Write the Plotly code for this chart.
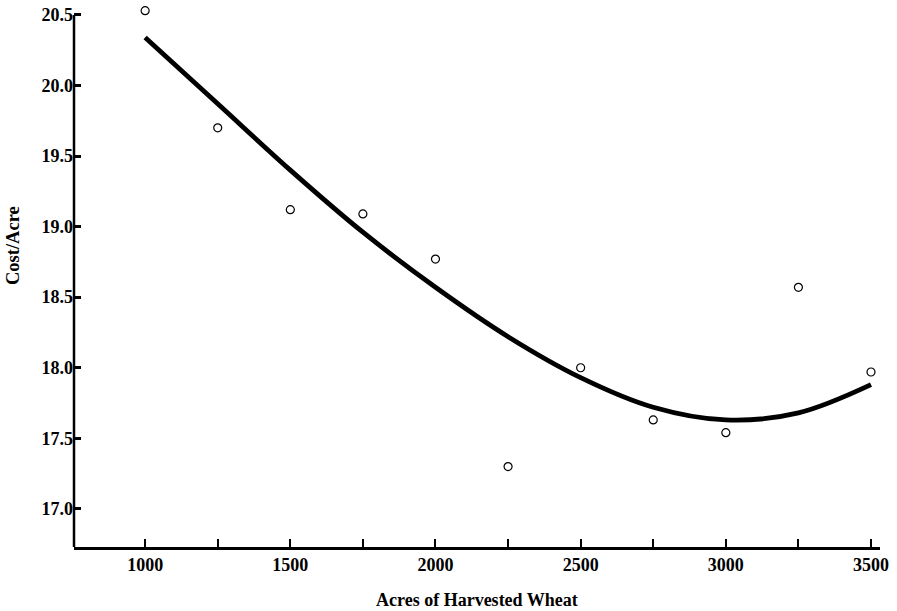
import plotly.graph_objects as go

# Observed data
acres = [1000, 1250, 1500, 1750, 2000, 2250, 2500, 2750, 3000, 3250, 3500]
cost_per_acre = [20.53, 19.70, 19.12, 19.09, 18.77, 17.30, 18.00, 17.63, 17.54, 18.57, 17.97]

# Fitted curve
curve_acres = [1000, 1250, 1500, 1750, 2000, 2250, 2500, 2750, 3000, 3250, 3500]
curve_cost = [20.34, 19.87, 19.40, 18.96, 18.57, 18.22, 17.93, 17.72, 17.63, 17.68, 17.88]

x_tick_vals = [1000, 1500, 2000, 2500, 3000, 3500]
y_tick_vals = [17.0, 17.5, 18.0, 18.5, 19.0, 19.5, 20.0, 20.5]

Y_MIN, Y_AXIS_TOP, Y_VIEW_TOP = 16.73, 20.5, 20.57

font_family = "Liberation Serif, Times New Roman, serif"

FIG_W, FIG_H = 897, 611
M_L, M_R, M_T, M_B = 74, 17, 5, 64
PLOT_W = FIG_W - M_L - M_R
PLOT_H = FIG_H - M_T - M_B

fig = go.Figure()
fig.add_trace(go.Scatter(
    x=curve_acres, y=curve_cost, mode="lines",
    line=dict(color="black", width=4.8, shape="spline", smoothing=1.0),
    hoverinfo="skip", showlegend=False,
))
fig.add_trace(go.Scatter(
    x=acres, y=cost_per_acre, mode="markers",
    marker=dict(symbol="circle-open", size=8, color="black", line=dict(width=1.2)),
    showlegend=False,
))

# y axis line only up to the 20.5 tick
fig.add_shape(type="line", xref="paper", yref="y", x0=0, x1=0,
              y0=Y_MIN, y1=Y_AXIS_TOP, line=dict(color="black", width=2.5))

fig.update_layout(
    width=FIG_W, height=FIG_H,
    margin=dict(l=M_L, r=M_R, t=M_T, b=M_B),
    paper_bgcolor="white", plot_bgcolor="white",
    font=dict(family=font_family, color="black", size=18),
    xaxis=dict(
        range=[755, 3531],
        tickvals=x_tick_vals,
        ticktext=[f"<b>{v}</b>" for v in x_tick_vals],
        ticks="inside", ticklen=8, tickwidth=2, tickcolor="black",
        minor=dict(dtick=250, tick0=1000, ticks="inside", ticklen=8, tickwidth=2,
                   tickcolor="black", showgrid=False),
        showline=True, linecolor="black", linewidth=2.5,
        showgrid=False, zeroline=False, automargin=False,
        ticklabeloverflow="allow",
        tickfont=dict(size=18),
    ),
    yaxis=dict(
        range=[Y_MIN, Y_VIEW_TOP],
        tickvals=y_tick_vals,
        ticktext=[f"<b>{v:.1f}</b>" for v in y_tick_vals],
        ticks="inside", ticklen=7, tickwidth=2.5, tickcolor="black",
        showline=False,
        showgrid=False, zeroline=False, automargin=False,
        ticklabeloverflow="allow",
        tickfont=dict(size=18),
    ),
    annotations=[
        dict(text="<b>Acres of Harvested Wheat</b>", xref="paper", yref="paper",
             x=0.5, y=(PLOT_H - 600 + M_T) / PLOT_H, xanchor="center", yanchor="middle",
             showarrow=False, font=dict(size=18)),
        dict(text="<b>Cost/Acre</b>", xref="paper", yref="paper",
             x=(13 - M_L) / PLOT_W, y=(PLOT_H - 245 + M_T) / PLOT_H, xanchor="center", yanchor="middle",
             textangle=-90, showarrow=False, font=dict(size=18.5)),
    ],
)

# remove the browser's default 8px body margin so the figure sits at the page origin
fig.write_html("out.html", config={"displayModeBar": False},
               post_script="document.body.style.margin='0px';")
